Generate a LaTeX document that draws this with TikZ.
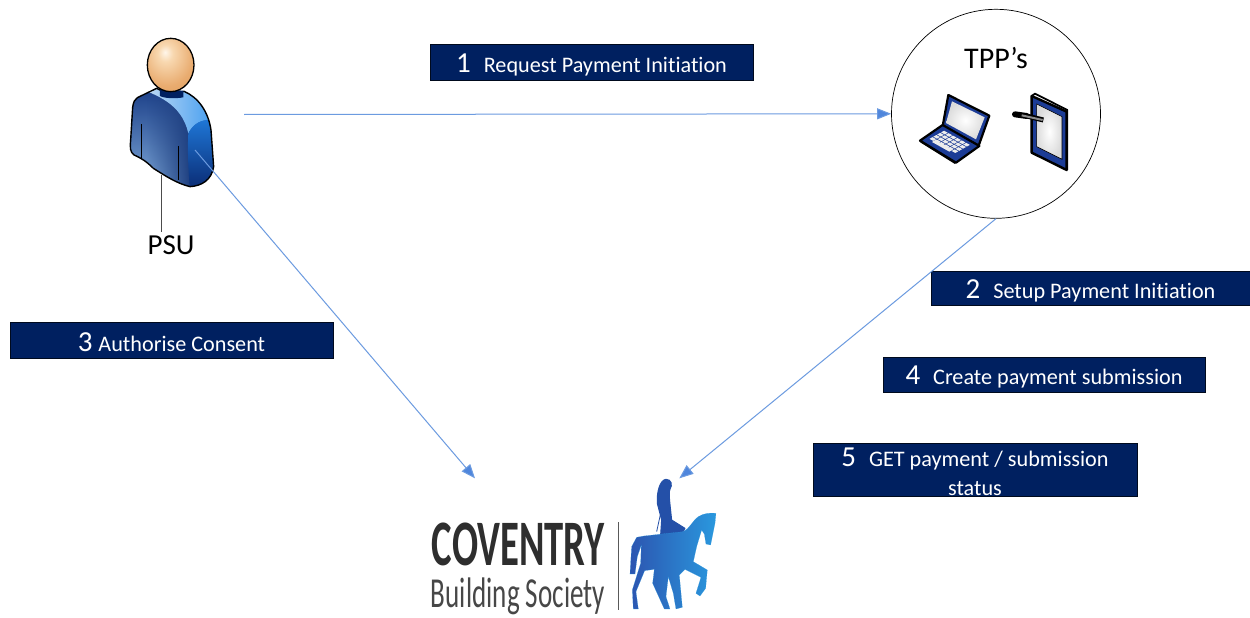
\documentclass[tikz,border=0pt]{standalone}
\usepackage{fontspec}
\usepackage{graphicx}
\setmainfont[RawFeature=-liga]{Carlito}
\usetikzlibrary{arrows.meta,fadings}
\definecolor{barnavy}{HTML}{002060}
\definecolor{flow}{HTML}{6C9BE0}
\definecolor{flowhead}{HTML}{4F86DC}
\definecolor{bodytop}{HTML}{1B3F88}
\definecolor{bodylow}{HTML}{7EA8D8}
\definecolor{bodydark}{HTML}{1E3F80}
\definecolor{shoulderl}{HTML}{D4E4F4}
\definecolor{shoulderr}{HTML}{3F9BF0}
\definecolor{sleevet}{HTML}{1F78D8}
\definecolor{sleeveb}{HTML}{0A2A72}
\definecolor{horsel}{HTML}{2C55B0}
\definecolor{horser}{HTML}{2A98DE}
\definecolor{rider}{HTML}{2450A8}
\definecolor{heada}{HTML}{FFF6EA}
\definecolor{headb}{HTML}{F8D8B0}
\definecolor{headc}{HTML}{E9AC70}
\definecolor{headd}{HTML}{DC9650}
\definecolor{devblue}{HTML}{1C3C96}
\pgfdeclareradialshading{headsh}{\pgfpoint{-6bp}{12bp}}{color(0bp)=(heada); color(8bp)=(headb); color(28bp)=(headc); color(50bp)=(headd); color(100bp)=(headd)}
\tikzset{
 lbl/.style={draw=black!70!barnavy,line width=.6pt,fill=barnavy,text=white,inner sep=0pt,align=center,font=\fontsize{22.2}{29}\selectfont},
 flowline/.style={draw=flow,line width=1pt,-{Triangle[length=14pt,width=11pt,fill=flowhead]}},
 outlinek/.style={draw=black,line width=1.1pt,line join=round},
 thickk/.style={draw=black,line width=2.2pt,line join=round},
}
\newcommand{\numtxt}[1]{\rule{0pt}{24pt}{\fontsize{29}{29}\selectfont #1}}
\begin{document}
\begin{tikzpicture}[x=1pt,y=-1pt]
\useasboundingbox (0,0) rectangle (1250,618);
\fill[white] (0,0) rectangle (1250,618);

% PSU person
\begin{scope}[shift={(110,20)},x=.3333pt,y=-.3333pt]
 \draw[black!70,line width=.8pt] (155,465) -- (155,635);
 \def\bodypath{(82,233) -- (140,205) .. controls (175,225) and (200,222) .. (222,214) .. controls (265,232) and (295,275) .. (303,330) -- (311,440) .. controls (305,480) and (275,498) .. (240,500) .. controls (200,490) and (170,470) .. (130,445) .. controls (110,425) and (95,415) .. (72,405) .. controls (60,395) and (60,385) .. (62,360) -- (68,262) .. controls (70,245) and (75,238) .. (82,233) -- cycle}
 \path[top color=bodytop,bottom color=bodylow] \bodypath;
 \begin{scope}
  \clip \bodypath;
  \fill[bodydark,path fading=west] (110,240) rectangle (240,510);
  \shade[left color=shoulderl,right color=shoulderr] (75,200) .. controls (140,225) and (215,250) .. (235,340) .. controls (250,310) and (275,295) .. (320,300) -- (320,200) -- cycle;
  \shade[top color=sleevet,bottom color=sleeveb] (235,340) .. controls (250,310) and (275,295) .. (320,300) -- (320,510) -- (240,510) .. controls (235,450) and (232,390) .. (235,340) -- cycle;
 \end{scope}
 \draw[outlinek,line width=1.4pt] \bodypath;
 \draw[black,line width=.7pt] (93,312) -- (93,415);
 \draw[black,line width=.7pt] (205,378) -- (205,480);
 \fill[barnavy] (150,208) -- (220,212) -- (220,232) .. controls (200,236) and (165,236) .. (150,228) -- cycle;
 \path[shading=headsh,draw=black,line width=1.3pt] (182,135) ellipse [x radius=70,y radius=80];
 \coordinate (psuc) at (255,390);
\end{scope}
\node[font=\fontsize{29}{32}\selectfont] (psu) at (171,245) {PSU};

% TPP circle
\node[circle,draw=black,line width=.7pt,minimum size=209pt,inner sep=0pt] (tpp) at (996,113.8) {};
\node[font=\fontsize{30}{32}\selectfont] (tpplabel) at (996,58) {TPP’s};

\begin{scope}[shift={(880,0)},x=.3333pt,y=-.3333pt]
 \path[fill=devblue,thickk] (205,285) -- (328,347) -- (296,437) -- (188,378) -- cycle;
 \shade[inner color=white,outer color=black!14!white] (216,304) -- (314,352) -- (288,418) -- (198,369) -- cycle;
 \path[fill=devblue,thickk] (188,375) -- (298,438) -- (228,488) -- (120,422) -- cycle;
 \foreach \j in {0.08,0.25,0.42,0.59}{
  \foreach \i in {0.08,0.22,0.36,0.50,0.64,0.78}{
   \fill[white!85!gray] ({190+\i*95-\j*68},{385+\i*52+\j*38}) -- ++(11,6) -- ++(-9,5) -- ++(-11,-6) -- cycle;
  }
 }
 \fill[white!85!gray] (166,420) -- (218,449) -- (208,455) -- (156,426) -- cycle;
 \draw[black,line width=1.6pt] (122,425) -- (226,490);
 \path[fill=devblue,thickk,line width=2.4pt] (455,288) -- (560,335) -- (560,510) -- (455,458) -- cycle;
 \shade[inner color=white,outer color=black!14!white,draw=black,line width=.6pt] (470,312) -- (546,350) -- (546,478) -- (470,440) -- cycle;
 \draw[thickk,line width=1.8pt] (455,288) -- (465,281) -- (562,330) -- (562,510);
 \draw[black,line width=6pt,line cap=round] (405,343) -- (440,348);
 \draw[black,line width=5pt] (440,348) -- (490,360);
 \draw[black!45,line width=2pt] (425,346) -- (488,360);
\end{scope}

% logo
\node[inner sep=0pt,text=black!82,anchor=center] (cov) at (518.5,544) {\resizebox*{173pt}{43pt}{\bfseries COVENTRY}};
\node[inner sep=0pt,text=black!72,anchor=center] (bs) at (518,596.5) {\resizebox*{174pt}{37pt}{Building Society}};
\draw[black!65,line width=.9pt] (618,522) -- (618,610);
\begin{scope}[shift={(420,460)},x=.3333pt,y=-.3333pt]
 \fill[rider,draw=rider,line width=1pt,line join=round] (738,58) .. controls (755,58) and (758,75) .. (750,88) .. controls (745,100) and (750,130) .. (755,180) -- (795,205) -- (775,240) -- (722,225) -- (725,180) -- (712,130) .. controls (710,95) and (720,60) .. (738,58) -- cycle;
 \draw[rider,line width=.8pt] (722,160) -- (710,215);
 \shade[left color=horsel,right color=horser,draw=horser,line width=.1pt]
  (672,228) -- (790,215) .. controls (810,205) and (815,185) .. (835,170) .. controls (850,160) and (870,158) .. (888,160) -- (885,190) -- (872,255) -- (858,252) -- (853,222) -- (845,210) -- (830,260) -- (820,305) -- (862,330) -- (857,385) -- (840,408) -- (828,400) -- (843,352) -- (795,328) -- (778,345) -- (787,442) -- (768,447) -- (760,400) -- (745,350) -- (738,410) -- (750,447) -- (733,447) -- (698,370) -- (703,328) -- (674,332) -- (648,395) -- (655,447) -- (640,447) -- (637,390) -- (662,310) -- (664,255) -- (652,290) -- (645,342) -- (630,342) -- (635,260) -- (650,232) -- cycle;
 \coordinate (logol) at (165,55);
 \coordinate (logor) at (778,55);
\end{scope}

% labels
\node[lbl,minimum width=323pt,minimum height=36pt] (s1) at (591.5,62) {\numtxt{1}\hspace{13pt}Request Payment Initiation};
\node[lbl,minimum width=319pt,minimum height=34pt] (s2) at (1090.5,288) {\numtxt{2}\hspace{13pt}Setup Payment Initiation};
\node[lbl,minimum width=323pt,minimum height=36pt] (s3) at (171.5,340) {\numtxt{3}\hspace{6pt}Authorise Consent};
\node[lbl,minimum width=322pt,minimum height=35pt] (s4) at (1044,374.5) {\numtxt{4}\hspace{13pt}Create payment submission};
\node[lbl,minimum width=324pt,minimum height=53pt] (s5) at (975,469.5) {\numtxt{5}\hspace{13pt}GET payment / submission\\status};

% connectors
\coordinate (psue) at (244,114.5);
\draw[flowline] (psue) -- (tpp.west);
\draw[flowline] (psuc) -- (logol);
\draw[flowline] (tpp.south) -- (logor);
\end{tikzpicture}
\end{document}
